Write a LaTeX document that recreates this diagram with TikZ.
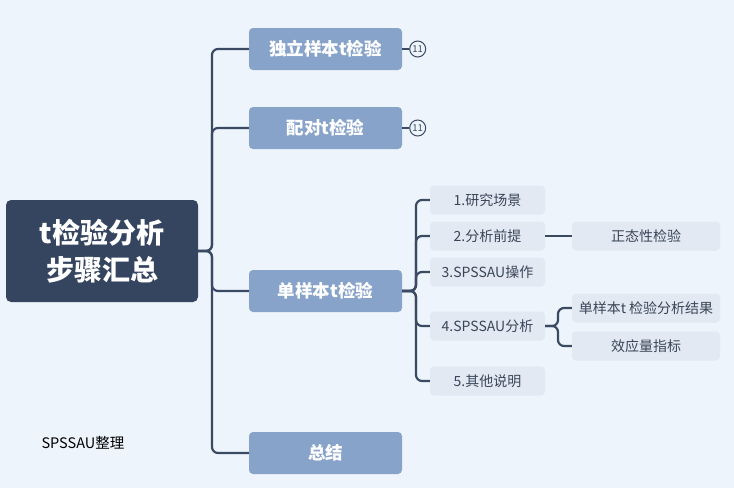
\documentclass[tikz,border=0pt]{standalone}
\usepackage{fontspec}
\setmainfont{Noto Sans CJK SC}
\usetikzlibrary{positioning}
\definecolor{bgblue}{HTML}{EDF4FB}
\definecolor{rootblue}{HTML}{354560}
\definecolor{midblue}{HTML}{88A3CA}
\definecolor{leafgray}{HTML}{E2E9F2}
\definecolor{linecol}{HTML}{3B4A63}
\definecolor{leaftext}{HTML}{3A4558}

\begin{document}
\begin{tikzpicture}[
  x=1pt, y=-1pt,
  root/.style={fill=rootblue, rounded corners=5pt, text=white, align=center,
               font=\fontsize{28}{37}\selectfont\bfseries,
               minimum width=192pt, minimum height=102pt, inner sep=0pt},
  topic/.style={fill=midblue, rounded corners=4pt, text=white,
                font=\fontsize{17.5}{20}\selectfont\bfseries,
                minimum width=153pt, minimum height=42pt, inner sep=0pt},
  leaf/.style={fill=leafgray, rounded corners=4pt, text=leaftext,
               font=\fontsize{14}{16}\selectfont,
               minimum width=115pt, minimum height=29pt, inner sep=0pt},
  wleaf/.style={leaf, minimum width=148pt},
  conn/.style={draw=linecol, line width=2.2pt, rounded corners=6pt},
  badge/.style={circle, draw=linecol, line width=1pt, inner sep=0pt,
                minimum size=16pt, text=linecol, font=\fontsize{9.5}{10}\selectfont}
]
\useasboundingbox[fill=bgblue] (0,0) rectangle (734,488);

% ================= Root =================
\node[root] (root) at (102,251) {t检验分析\\步骤汇总};
\coordinate (trunk) at (212,251);

% ================= Main topics =================
\node[topic] (indep)  at (325.5,49)  {独立样本t检验};
\node[topic] (paired) at (325.5,128) {配对t检验};
\node[topic] (single) at (325.5,291) {单样本t检验};
\node[topic] (summ)   at (325.5,453) {总结};

\draw[conn] (root.east) -- (trunk) |- (indep.west);
\draw[conn] (root.east) -- (trunk) |- (paired.west);
\draw[conn] (root.east) -- (trunk) |- (single.west);
\draw[conn] (root.east) -- (trunk) |- (summ.west);

% ================= Badges =================
\node[badge, right=7pt of indep]  (b1) {11};
\node[badge, right=7pt of paired] (b2) {11};
\draw[conn] (indep.east) -- (b1.west);
\draw[conn] (paired.east) -- (b2.west);

% ================= Single-sample branch =================
\coordinate (sfork) at (416,291);
\node[leaf] (s1) at (487.5,200) {1.研究场景};
\node[leaf] (s2) at (487.5,236) {2.分析前提};
\node[leaf] (s3) at (487.5,272) {3.SPSSAU操作};
\node[leaf] (s4) at (487.5,326) {4.SPSSAU分析};
\node[leaf] (s5) at (487.5,381) {5.其他说明};
\foreach \n in {s1,s2,s3,s4,s5}
  \draw[conn] (single.east) -- (sfork) |- (\n.west);

% ================= Third level =================
\node[wleaf] (norm) at (646,236) {正态性检验};
\draw[conn] (s2.east) -- (norm.west);

\coordinate (afork) at (558,326);
\node[wleaf] (res) at (646,308) {单样本t 检验分析结果};
\node[wleaf] (eff) at (646,346) {效应量指标};
\draw[conn] (s4.east) -- (afork) |- (res.west);
\draw[conn] (s4.east) -- (afork) |- (eff.west);

% ================= Note =================
\node[font=\fontsize{14.5}{16}\selectfont, text=black, anchor=west] (note)
  at (38,443) {SPSSAU整理};

\end{tikzpicture}
\end{document}
